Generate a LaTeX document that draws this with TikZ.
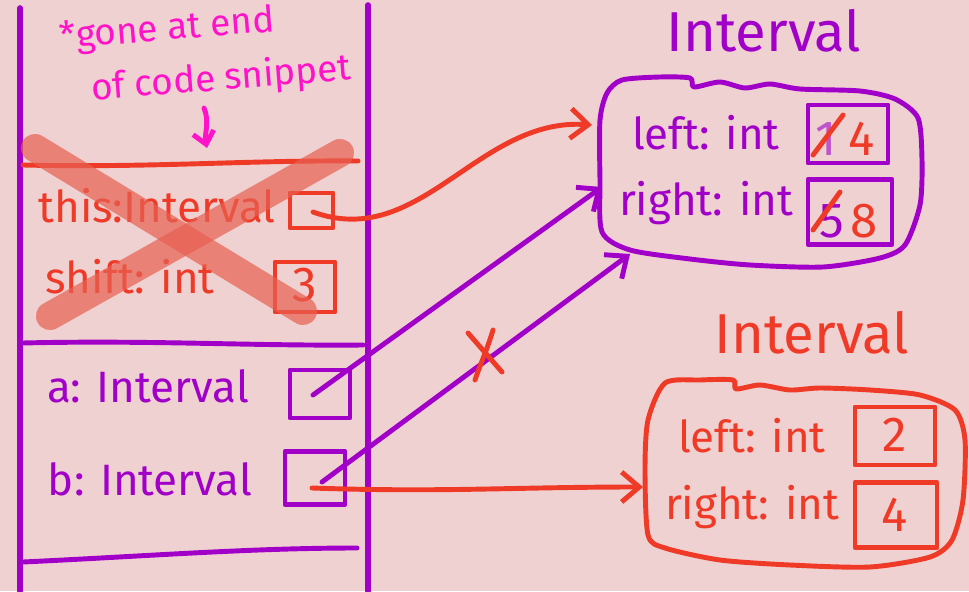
\documentclass[tikz,border=0pt]{standalone}
\usepackage{fontspec}
\setmainfont{Fira Sans}
\usetikzlibrary{arrows.meta}
\definecolor{bg}{HTML}{EFD1D1}
\definecolor{pur}{HTML}{A000C8}
\definecolor{rd}{HTML}{F03A28}
\definecolor{mag}{HTML}{FF12C8}
\definecolor{sal}{HTML}{E86050}
\begin{document}
\begin{tikzpicture}[x=0.02cm,y=-0.02cm,line cap=round,line join=round,
  pen/.style={line width=2.8pt},
  frame/.style={pen,line width=3.2pt,pur},
  lbl/.style={inner sep=0,anchor=base,font=\fontsize{25}{25}\selectfont},
  note/.style={inner sep=0,anchor=base,font=\fontsize{21}{21}\selectfont,mag,rotate=4.5},
  ttl/.style={inner sep=0,anchor=base,font=\fontsize{32}{32}\selectfont},
  fld/.style={inner sep=0,anchor=base,font=\fontsize{25}{25}\selectfont},
  num/.style={inner sep=0,anchor=base,font=\fontsize{28}{28}\selectfont},
  cell/.style={pen,draw,inner sep=0,minimum width=#1},
  barb/.style={-{Straight Barb[length=10pt,width=17pt]}},
  smallbarb/.style={-{Straight Barb[length=7pt,width=12pt]}},
  strike/.style={line width=16pt,sal,opacity=0.7}]
\fill[bg] (0,0) rectangle (969,591);
\useasboundingbox (0,0) rectangle (969,591);
% stack frame
\draw[frame] (20,8) -- (20,591);
\draw[frame] (368,5) -- (368,591);
\draw[pen,rd] (23,165) .. controls (150,168) and (250,160) .. (358,161);
\draw[pen,pur] (23,343) .. controls (150,340) and (250,346) .. (363,345);
\draw[pen,pur] (23,562) .. controls (150,556) and (250,548) .. (357,548);
% note
\node[note] (note1) at (168,40) {*gone at end};
\node[note] (note2) at (222,90) {of code snippet};
\coordinate (nA) at (204,108);
\coordinate (nB) at (207,148);
\draw[pen,mag,smallbarb] (nA) .. controls (210,122) and (204,135) .. (nB);
% this / shift
\node[lbl,rd] (thisT) at (157,222) {this:Interval};
\node[cell=0.86cm,minimum height=0.70cm,rd] (thisbox) at (311.5,210.5) {};
\node[lbl,rd] (shiftT) at (130,293) {shift: int};
\node[cell=1.2cm,minimum height=1.0cm,rd] (shiftbox) at (305,287) {};
\node[num,rd] (three) at (305,301) {3};
% a / b
\node[lbl,pur] (aT) at (148,402) {a: Interval};
\node[cell=1.2cm,minimum height=0.96cm,pur] (abox) at (320,394) {};
\node[lbl,pur] (bT) at (150,495) {b: Interval};
\node[cell=1.2cm,minimum height=1.06cm,pur] (bbox) at (315,478) {};
% top object
\node[ttl,pur] (t1) at (764,52) {Interval};
\draw[pen,pur] plot[smooth cycle,tension=0.45] coordinates {(622,80) (660,77) (690,78) (694,87) (720,82) (745,88) (770,84) (800,89) (860,91) (895,99) (918,118) (922,160) (920,205) (905,245) (880,258) (823,267) (750,265) (690,259) (630,250) (602,232) (600,180) (600,120) (607,93)};
\node[fld,pur] (tl) at (706,150) {left: int};
\node[fld,pur] (tr) at (706,215) {right: int};
\node[cell=1.6cm,minimum height=1.16cm,pur] (tlbox) at (848,134) {};
\node[cell=1.68cm,minimum height=1.3cm,pur] (trbox) at (850,212) {};
\node[num,pur,opacity=0.6] (one) at (826,155) {1};
\draw[pen,rd] (813,155) -- (843,115);
\node[num,rd] (four) at (862,155) {4};
\node[num,pur] (five) at (832,237) {5};
\draw[pen,rd] (813,230) -- (840,192);
\node[num,rd] (eight) at (864,237) {8};
% bottom object
\node[ttl,rd] (t2) at (812,353) {Interval};
\draw[pen,rd] plot[smooth cycle,tension=0.45] coordinates {(665,383) (700,380) (733,380) (736,389) (760,385) (790,390) (820,388) (870,390) (920,395) (955,410) (965,440) (963,500) (952,540) (930,557) (870,567) (790,565) (720,560) (665,548) (648,535) (645,470) (648,420)};
\node[fld,rd] (bl) at (752,452) {left: int};
\node[fld,rd] (br) at (752,519) {right: int};
\node[cell=1.6cm,minimum height=1.16cm,rd] (blbox) at (895,436) {};
\node[cell=1.64cm,minimum height=1.3cm,rd] (brbox) at (896,515) {};
\node[num,rd] (two) at (895,451) {2};
\node[num,rd] (fourb) at (895,531) {4};
% crossed-out frame
\draw[strike] (35,148) -- (303,311);
\draw[strike] (340,153) -- (50,316);
% arrows
\coordinate (sThis) at (313,212);
\coordinate (tip1) at (592,125);
\coordinate (sA) at (313,395);
\coordinate (tip2) at (602,187);
\coordinate (sB) at (322,482);
\coordinate (tip3) at (630,254);
\coordinate (sB2) at (312,488);
\coordinate (tip4) at (643,487);
\draw[pen,rd,barb] (sThis) to[out=-20,in=176] (tip1);
\draw[pen,pur,barb] (sA) -- (tip2);
\draw[pen,pur,barb] (sB) -- (tip3);
\draw[pen,rd,barb] (sB2) to[out=-2,in=180] (tip4);
% x on stale reference
\draw[pen,rd] (468,333) -- (502,372);
\draw[pen,rd] (493,330) .. controls (487,350) and (480,365) .. (475,380);
\end{tikzpicture}
\end{document}
